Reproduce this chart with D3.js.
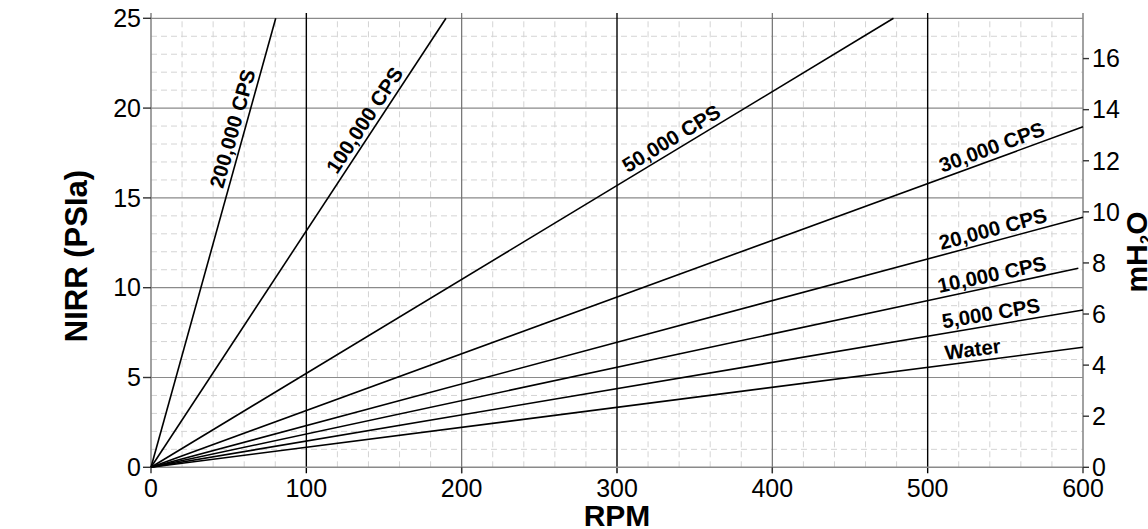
<!DOCTYPE html>
<html>
<head>
<meta charset="utf-8">
<script src="https://cdn.jsdelivr.net/npm/d3@7"></script>
<style>
  html, body { margin: 0; padding: 0; background: #fff; }
  svg { display: block; font-family: "Liberation Sans", Arial, sans-serif; }
</style>
</head>
<body>
<svg id="chart" width="1148" height="529"></svg>
<script>
// ---- data ----
const seriesNames = ["200,000 CPS", "100,000 CPS", "50,000 CPS", "30,000 CPS", "20,000 CPS", "10,000 CPS", "5,000 CPS", "Water"];
const endRpm = [80.3, 189.9, 478, 600, 600, 597, 600, 600];
const endPsi = [25, 25, 25, 18.96, 13.92, 11.08, 8.76, 6.68];
const labelRpm = [60, 144, 339, 544, 544, 543, 542, 530];
const xTicks = [0, 100, 200, 300, 400, 500, 600];
const yTicks = [0, 5, 10, 15, 20, 25];
const y2Ticks = [0, 2, 4, 6, 8, 10, 12, 14, 16];
const darkVerticals = [100, 300, 500];
const PSI_TO_MH2O = 0.70307;

// ---- layout ----
const svg = d3.select("#chart");
const x = d3.scaleLinear().domain([0, 600]).range([151, 1083]);
const y = d3.scaleLinear().domain([0, 25]).range([467.3, 18.3]);
const y2 = d3.scaleLinear().domain([0, 25 * PSI_TO_MH2O]).range([467.3, 18.3]);
const topExt = 13;
const tickFont = 25;

// minor grid
const minorX = d3.range(0, 601, 20).filter(v => v % 100 !== 0);
const minorY = d3.range(0, 26, 1).filter(v => v % 5 !== 0);
const grid = svg.append("g");
grid.selectAll(".mx").data(minorX).enter().append("line")
  .attr("x1", d => x(d)).attr("x2", d => x(d))
  .attr("y1", y(0)).attr("y2", y(25))
  .attr("stroke", "#d4d4d4").attr("stroke-width", 1).attr("stroke-dasharray", "6,4");
grid.selectAll(".my").data(minorY).enter().append("line")
  .attr("x1", x(0)).attr("x2", x(600))
  .attr("y1", d => y(d)).attr("y2", d => y(d))
  .attr("stroke", "#d4d4d4").attr("stroke-width", 1).attr("stroke-dasharray", "6,4");

// major grid
grid.selectAll(".My").data(yTicks.filter(v => v > 0)).enter().append("line")
  .attr("x1", x(0)).attr("x2", x(600))
  .attr("y1", d => y(d)).attr("y2", d => y(d))
  .attr("stroke", "#8a8a8a").attr("stroke-width", 1.2);
grid.selectAll(".Mx").data(xTicks.filter(v => v > 0 && v < 600 && !darkVerticals.includes(v))).enter().append("line")
  .attr("x1", d => x(d)).attr("x2", d => x(d))
  .attr("y1", y(0) + 6).attr("y2", topExt)
  .attr("stroke", "#707070").attr("stroke-width", 1.2);
grid.selectAll(".Dx").data(darkVerticals).enter().append("line")
  .attr("x1", d => x(d)).attr("x2", d => x(d))
  .attr("y1", y(0) + 6).attr("y2", topExt)
  .attr("stroke", "#000").attr("stroke-width", 1.4);

// axes lines
const ax = svg.append("g").attr("stroke", "#8a8a8a").attr("stroke-width", 1.6);
ax.append("line").attr("x1", x(0)).attr("x2", x(0)).attr("y1", y(0)).attr("y2", topExt);
ax.append("line").attr("x1", x(600)).attr("x2", x(600)).attr("y1", y(0)).attr("y2", topExt);
ax.append("line").attr("x1", x(0)).attr("x2", x(600)).attr("y1", y(0)).attr("y2", y(0));

// ticks
const tk = svg.append("g").attr("stroke", "#333").attr("stroke-width", 1.4);
tk.selectAll(".tx").data([0, 200, 400, 600]).enter().append("line")
  .attr("x1", d => x(d)).attr("x2", d => x(d)).attr("y1", y(0)).attr("y2", y(0) + 6);
tk.selectAll(".ty").data(yTicks).enter().append("line")
  .attr("x1", x(0) - 8).attr("x2", x(0)).attr("y1", d => y(d)).attr("y2", d => y(d));
tk.selectAll(".ty2").data(y2Ticks).enter().append("line")
  .attr("x1", x(600)).attr("x2", x(600) + 6).attr("y1", d => y2(d)).attr("y2", d => y2(d));

// tick labels
const tl = svg.append("g").attr("font-size", tickFont).attr("fill", "#000");
tl.selectAll(".lx").data(xTicks).enter().append("text")
  .attr("x", d => x(d)).attr("y", 497).attr("text-anchor", "middle").text(d => d);
tl.selectAll(".ly").data(yTicks).enter().append("text")
  .attr("x", x(0) - 10).attr("y", d => y(d)).attr("dy", "0.35em").attr("text-anchor", "end").text(d => d);
tl.selectAll(".ly2").data(y2Ticks).enter().append("text")
  .attr("x", x(600) + 9).attr("y", d => y2(d)).attr("dy", "0.35em").attr("text-anchor", "start").text(d => d);

// series lines
const lines = svg.append("g");
seriesNames.forEach((name, i) => {
  const pts = [[0, 0], [endRpm[i], endPsi[i]]];
  lines.append("path")
    .attr("d", d3.line().x(d => x(d[0])).y(d => y(d[1]))(pts))
    .attr("fill", "none").attr("stroke", "#000").attr("stroke-width", 1.6);
  const ang = Math.atan2(y(endPsi[i]) - y(0), x(endRpm[i]) - x(0)) * 180 / Math.PI;
  const lr = labelRpm[i];
  const lp = endPsi[i] * lr / endRpm[i];
  lines.append("text")
    .attr("transform", `translate(${x(lr)},${y(lp)}) rotate(${ang})`)
    .attr("y", -5)
    .attr("text-anchor", "middle")
    .attr("font-size", 20.5).attr("font-weight", "bold")
    .text(name);
});

// axis titles
svg.append("text").attr("x", x(300)).attr("y", 526).attr("text-anchor", "middle")
  .attr("font-size", 30).attr("font-weight", "bold").text("RPM");
svg.append("text").attr("transform", "translate(87,256) rotate(-90)").attr("text-anchor", "middle")
  .attr("font-size", 31).attr("font-weight", "bold").text("NIRR (PSIa)");
const t2 = svg.append("text").attr("transform", "translate(1147,252) rotate(-90)").attr("text-anchor", "middle")
  .attr("font-size", 30).attr("font-weight", "bold");
t2.append("tspan").text("mH");
t2.append("tspan").attr("font-size", 17).attr("dy", 5).text("2");
t2.append("tspan").attr("dy", -5).text("O");
</script>
</body>
</html>
